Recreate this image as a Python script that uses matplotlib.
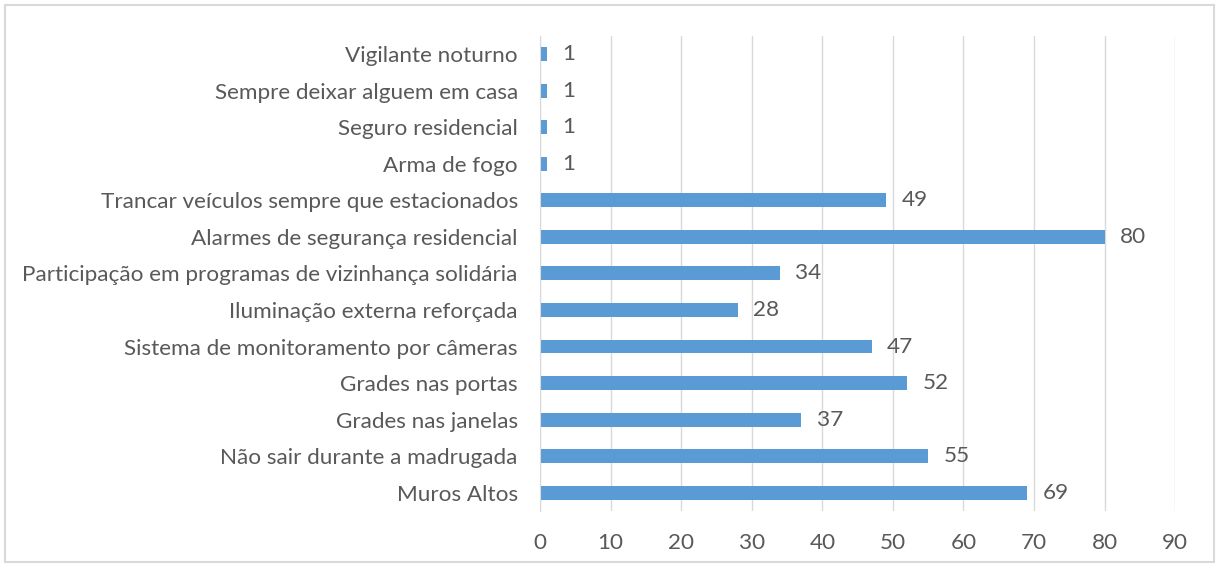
import matplotlib
matplotlib.use("Agg")
import matplotlib.pyplot as plt
from matplotlib.patches import Rectangle

categories = [
    "Muros Altos",
    "Não sair durante a madrugada",
    "Grades nas janelas",
    "Grades nas portas",
    "Sistema de monitoramento por câmeras",
    "Iluminação externa reforçada",
    "Participação em programas de vizinhança solidária",
    "Alarmes de segurança residencial",
    "Trancar veículos sempre que estacionados",
    "Arma de fogo",
    "Seguro residencial",
    "Sempre deixar alguem em casa",
    "Vigilante noturno",
]
values = [69, 55, 37, 52, 47, 28, 34, 80, 49, 1, 1, 1, 1]
xticks = list(range(0, 100, 10))

plt.rcParams['font.family'] = ['Lato', 'DejaVu Sans']
text_color = "#595959"
bar_color = "#5B9BD5"
grid_color = "#D9D9D9"
fs = 16.2

fig = plt.figure(figsize=(12.19, 5.67), dpi=100)
ax = fig.add_axes([0.443, 0.0988, 0.521, 0.838])

y = list(range(len(categories)))
ax.barh(y, values, height=0.38, color=bar_color, zorder=3)
for yi, v in zip(y, values):
    ax.text(v + 2.2, yi, str(v), va='center', ha='left', fontsize=fs, color=text_color)

ax.set_xlim(0, 90)
ax.set_ylim(-0.5, len(categories) - 0.5)
ax.set_xticks(xticks)
ax.set_xticklabels([str(t) for t in xticks], fontsize=fs, color=text_color)
ax.set_yticks(y)
ax.set_yticklabels(categories, fontsize=fs, color=text_color)
ax.tick_params(axis='both', length=0)
ax.tick_params(axis='y', pad=16)
ax.tick_params(axis='x', pad=16)
ax.grid(axis='x', color=grid_color, linewidth=1, zorder=0)
for s in ['top', 'right', 'bottom']:
    ax.spines[s].set_visible(False)
ax.spines['left'].set_color(grid_color)
ax.spines['left'].set_zorder(4)

fig.patches.append(Rectangle((0.004, 0.008), 0.992, 0.984, transform=fig.transFigure,
                             fill=False, edgecolor=grid_color, linewidth=1.5))

fig.savefig("out.png", dpi=100)
